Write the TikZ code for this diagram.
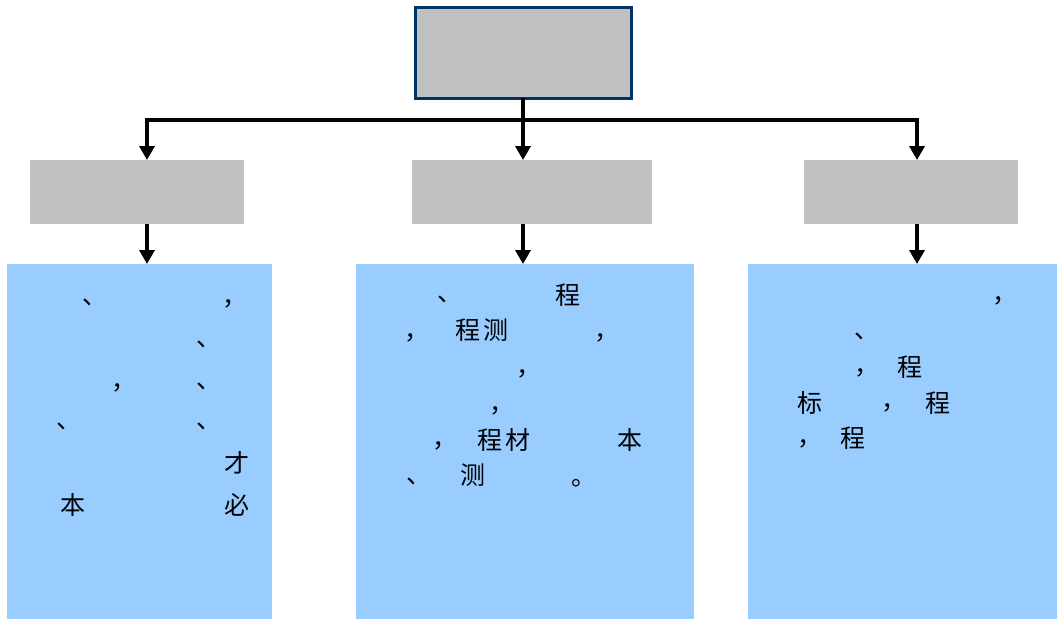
\documentclass[tikz,border=0pt]{standalone}
\usepackage{fontspec}
\newfontfamily\cjk{Noto Sans CJK SC}
\usetikzlibrary{arrows.meta}
\definecolor{boxgray}{HTML}{C0C0C0}
\definecolor{boxblue}{HTML}{99CCFF}
\definecolor{topborder}{HTML}{003366}
\begin{document}
\begin{tikzpicture}[x=1pt,y=-1pt,
  topbox/.style={draw=topborder,line width=3pt,fill=boxgray,inner sep=0pt,outer sep=0pt,minimum width=216pt,minimum height=91pt},
  graybox/.style={fill=boxgray,inner sep=0pt,outer sep=0pt,minimum height=64pt},
  bluebox/.style={fill=boxblue,inner sep=0pt,outer sep=0pt,minimum height=355pt},
  conn/.style={line width=3.5pt,black},
  arr/.style={conn,-{Triangle[width=15pt,length=14pt]}},
  glyph/.style={font=\cjk\fontsize{25}{25}\selectfont,inner sep=0pt,anchor=base}]
\useasboundingbox (0,0) rectangle (1057,621);
% boxes
\node[topbox] (top) at (523,52.5) {};
\node[graybox,minimum width=214pt] (g1) at (137,192) {};
\node[graybox,minimum width=240pt] (g2) at (532,192) {};
\node[graybox,minimum width=214pt] (g3) at (911,192) {};
\node[bluebox,minimum width=265pt] (b1) at (139.5,441.5) {};
\node[bluebox,minimum width=338pt] (b2) at (525,441.5) {};
\node[bluebox,minimum width=309pt] (b3) at (902.5,441.5) {};
% connectors
\coordinate (bar) at (524,120);
\coordinate (x1) at (147,0);
\coordinate (x3) at (917,0);
\draw[arr] (top.south) -- (top.south |- g2.north);
\draw[arr] (bar) -| (x1 |- g1.north);
\draw[arr] (bar) -| (x3 |- g3.north);
\draw[arr] (x1 |- g1.south) -- (x1 |- b1.north);
\draw[arr] (top.south |- g2.south) -- (top.south |- b2.north);
\draw[arr] (x3 |- g3.south) -- (x3 |- b3.north);
% texts
\foreach \x/\y/\t [count=\i] in {
  95/304/、, 235/305/，, 209/346/、, 124/389/，, 209/388/、, 69/428/、, 209/428/、,
  237/472/才, 73/514/本, 237/514/必}
  \node[glyph] (ta\i) at (\x,\y) {\t};
\foreach \x/\y/\t [count=\i] in {
  450/301/、, 568/304/程, 417/339/，, 468/339/程, 496/339/测, 607/339/，,
  529/375/，, 502/412/，, 445/447/，, 490/449/程, 518/449/材, 630/449/本,
  419/483/、, 473/484/测, 584/485/。}
  \node[glyph] (tb\i) at (\x,\y) {\t};
\foreach \x/\y/\t [count=\i] in {
  1005/302/，, 867/338/、, 867/374/，, 910/376/程, 810/412/标, 894/409/，,
  938/412/程, 810/445/，, 853/447/程}
  \node[glyph] (tc\i) at (\x,\y) {\t};
\end{tikzpicture}
\end{document}
